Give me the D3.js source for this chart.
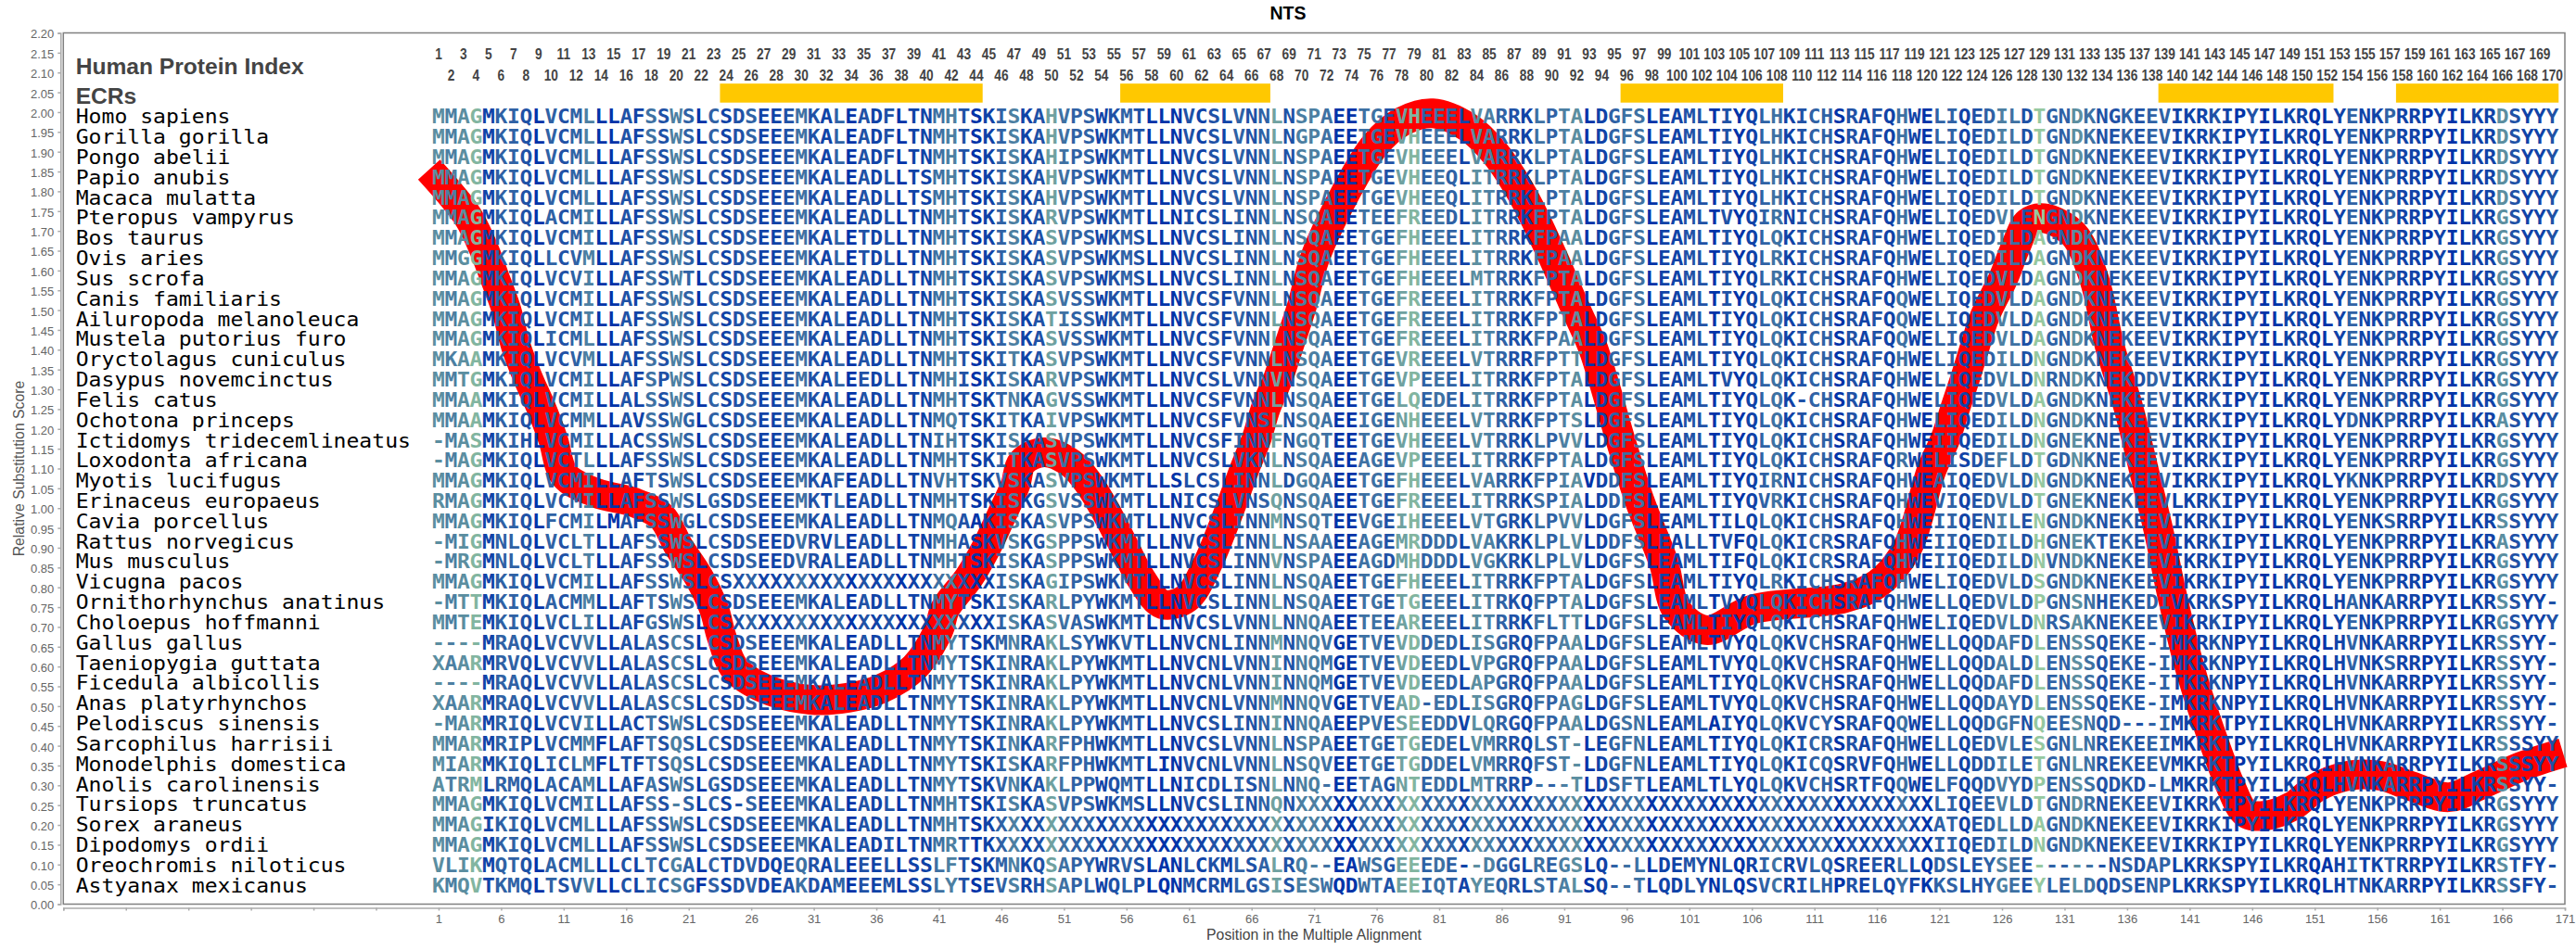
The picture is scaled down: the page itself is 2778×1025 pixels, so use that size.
<!DOCTYPE html>
<html><head><meta charset="utf-8"><title>NTS</title>
<script src="https://cdn.jsdelivr.net/npm/d3@7"></script>
<style>html,body{margin:0;padding:0;background:#fff}svg{display:block}</style>
</head><body><div id="chart"></div>
<script>
const species = ["Homo sapiens","Gorilla gorilla","Pongo abelii","Papio anubis","Macaca mulatta","Pteropus vampyrus","Bos taurus","Ovis aries","Sus scrofa","Canis familiaris","Ailuropoda melanoleuca","Mustela putorius furo","Oryctolagus cuniculus","Dasypus novemcinctus","Felis catus","Ochotona princeps","Ictidomys tridecemlineatus","Loxodonta africana","Myotis lucifugus","Erinaceus europaeus","Cavia porcellus","Rattus norvegicus","Mus musculus","Vicugna pacos","Ornithorhynchus anatinus","Choloepus hoffmanni","Gallus gallus","Taeniopygia guttata","Ficedula albicollis","Anas platyrhynchos","Pelodiscus sinensis","Sarcophilus harrisii","Monodelphis domestica","Anolis carolinensis","Tursiops truncatus","Sorex araneus","Dipodomys ordii","Oreochromis niloticus","Astyanax mexicanus"];

const seqStart = ["MMAGMKIQLVCMLLLAF","MMAGMKIQLVCMLLLAF","MMAGMKIQLVCMLLLAF","MMAGMKIQLVCMLLLAF","MMAGMKIQLVCMLLLAF","MMAGMKIQLACMILLAF","MMAGMKIQLVCMILLAF","MMGGMKIQLLCVMLLAF","MMAGMKIQLVCVILLAF","MMAGMKIQLVCMILLAF","MMAGMKIQLVCMILLAF","MMAGMKIQLICMLLLAF","MKAAMKIQLVCVMLLAF","MMTGMKIQLVCMILLAF","MMAAMKIQLVCMILLAL","MMAAMKIQLVCMMLLAV","-MASMKIHLVCMILLAC","-MAGMKIQLVCTLLLAF","MMAGMKIQLVCMILLAF","RMAGMKIQLVCMILLAF","MMAGMKIQLFCMILMAF","-MIGMNLQLVCLTLLAF","-MRGMNLQLVCLTLLAF","MMAGMKIQLVCMILLAF","-MTTMKIQLACMMLLAF","MMTEMKIQLVCLILLAF","----MRAQLVCVVLLAL","XAARMRVQLVCVVLLAL","----MRAQLVCVVLLAL","XAARMRAQLVCVVLLAL","-MARMRIQLVCVILLAC","MMARMRIPLVCMMFLAF","MIARMKIQLICLMFLTF","ATRMLRMQLACAMLLAF","MMAGMKIQLVCMILLAF","MMAGIKIQLVCMLLLAF","MMAGMKIQLVCMLLLAF","VLIKMQTQLACMLLLCL","KMQVTKMQLTSVVLLCL"];

const seqMiddleA = ["SSWSLCSDSEEEMKALEADFLTNMHTSKISKAHVPSWKMTLLNVCSLVNNLN","SSWSLCSDSEEEMKALEADFLTNMHTSKISKAHVPSWKMTLLNVCSLVNNLN","SSWSLCSDSEEEMKALEADFLTNMHTSKISKAHIPSWKMTLLNVCSLVNNLN","SSWSLCSDSEEEMKALEADLLTSMHTSKISKAHVPSWKMTLLNVCSLVNNLN","SSWSLCSDSEEEMKALEADLLTSMHTSKISKAHVPSWKMTLLNVCSLVNNLN","SSWSLCSDSEEEMKALEADLLTNMHTSKISKARVPSWKMTLLNICSLINNLN","SSWSLCSDSEEEMKALETDLLTNMHTSKISKASVPSWKMSLLNVCSLINNLN","SSWSLCSDSEEEMKALETDLLTNMHTSKISKASVPSWKMSLLNVCSLINNLN","SSWTLCSDSEEEMKALEADLLTNMHTSKISKASVPSWKMSLLNVCSLINNLN","SSWSLCSDSEEEMKALEADLLTNMHTSKISKASVSSWKMTLLNVCSFVNNLN","SSWSLCSDSEEEMKALEADLLTNMHTSKISKATISSWKMTLLNVCSFVNNLN","SSWSLCSDSEEEMKALEADLLTNMHTSKISKASVSSWKMTLLNVCSFVNNLN","SSWSLCSDSEEEMKALEADLLTNMHTSKITKASVPSWKMTLLNVCSFVNNLN","SPWSLCSDSEEEMKALEEDLLTNMHISKISKARVPSWKMTLLNVCSLVNNVN","SSWSLCSDSEEEMKALEADLLTNMHTSKTNKAGVSSWKMTLLNVCSFVNNLN","SSWGLCSDSEEEMKALEADLLTNMQTSKITKAIVPSWKMTLLNVCSFVNSLN","SSWSLCSDSEEEMKALEADLLTNIHTSKISKASVPSWKMTLLNVCSFINNFN","SSWSLCSDSEEEMKALEADLLTNMHTSKITKASVPSWKMTLLNVCSLVKNLN","TSWSLCSDSEEEMKAFEADLLTNVHTSKVSKASVPSWKMTLLSLCSLINNLD","SSWSLGSDSEEEMKTLEADLLTNMHTSKISKGSVSSWKMTLLNICSLVNSQN","SSWGLCSDSEEEMKALEADLLTNMQAAKISKASVPSWKMTLLNVCSLINNMN","SSWSLCSDSEEDVRVLEADLLTNMHASKVSKGSPPSWKMTLLNVCSLINNLN","SSWSLCSDSEEDVRALEADLLTNMHTSKISKASPPSWKMTLLNVCSLINNVN","SSWSLCSXXXXXXXXXXXXXXXXXXXXXISKAGIPSWKMTLLNVCSLINNLN","TSWSLCSDSEEEMKALEADLLTNMYTSKISKARLPYWKMTLLNVCSLINNLN","GSWSLCSXXXXXXXXXXXXXXXXXXXXXISKASVASWKMTLLNVCSLVNNLN","ASCSLCSDSEEEMKALEADLLTNMYTSKMNRAKLSYWKVTLLNVCNLINNMN","ASCSLCSDSEEEMKALEADLLTNMYTSKINRAKLPYWKMTLLNVCNLVNNIN","ASCSLCSDSEEEMKALEADLLTNMYTSKINRAKLPYWKMTLLNVCNLVNNIN","ASCSLCSDSEEEMKALEADLLTNMYTSKINRAKLPYWKMTLLNVCNLVNNMN","TSWSLCSDSEEEMKALEADLLTNMYTSKINRAKLPYWKMTLLNVCSLINNIN","TSQSLCSDSEEEMKALEADLLTNMYTSKINKARFPHWKMTLLNVCSLVNNLN","TSQSLCSDSEEEMKALEADLLTNMYTSKISKARFPHWKMTLINVCNLVNNLN","ASWSLGSDSEEEMKALEADLLTNMYTSKVNKAKLPPWQMTLLNICDLISNLN","SS-SLCS-SEEEMKALEADLLTNMHTSKISKASVPSWKMSLLNVCSLINNQN","SSWSLCSDSEEEMKALEADLLTNMHTSKXXXXXXXXXXXXXXXXXXXXXXXX","SSWSLCSDSEEEMKALEADILTNMRTTKXXXXXXXXXXXXXXXXXXXXXXXX","TCGALCTDVDQEQRALEEELLSSLFTSKMNKQSAPYWRVSLANLCKMLSALR","ICSGFSSDVDEAKDAMEEEMLSSLYTSEVSRHSAPLWQLPLQNMCRMLGSIS"];

const seqMiddleB = ["SPAEETGEVHEEELVARRKLPTALDGFSLEAMLTIYQLHKICHSRAFQHWEL","GPAEETGEVHEEELVARRKLPTALDGFSLEAMLTIYQLHKICHSRAFQHWEL","SPAEETGEVHEEELVARRKLPTALDGFSLEAMLTIYQLHKICHSRAFQHWEL","SPAEETGEVHEEQLITRRKLPTALDGFSLEAMLTIYQLHKICHSRAFQHWEL","SPAEETGEVHEEQLITRRKLPTALDGFSLEAMLTIYQLHKICHSRAFQHWEL","SQAEETEEFREEDLITRRKFPTALDGFSLEAMLTVYQIRNICHSRAFQHWEL","SQAEETGEFHEEELITRRKFPAALDGFSLEAMLTIYQLQKICHSRAFQHWEL","SQAEETGEFHEEELITRRKFPAALDGFSLEAMLTIYQLRKICHSRAFQHWEL","SQAEETGEFHEEELMTRRKFPTALDGFSLEAMLTIYQLRKICHSRAFQHWEL","SQAEETGEFREEELITRRKFPTALDGFSLEAMLTIYQLQKICHSRAFQQWEL","SQAEETGEFREEELITRRKFPTALDGFSLEAMLTIYQLQKICHSRAFQQWEL","SQAEETGEFREEELITRRKFPAALDGFSLEAMLTIYQLQKICHSRAFQQWEL","SQAEETGEVREEELVTRRRFPTTLDGFSLEAMLTIYQLQKICHSRAFQHWEL","SQAEETGEVPEEELITRRKFPTALDGFSLEAMLTVYQLQKICHSRAFQHWEL","SQAEETGELQEDELITRRKFPTALDGFSLEAMLTIYQLQK-CHSRAFQHWEL","SQAEEIGENHEEELVTRRKFPTSLDGFSLEAMLTIYQLQKICHSRAFQHWEL","GQTEETGEVHEEELVTRRKLPVVLDGFSLEAMLTIYQLQKICHSRAFQHWEI","SQAEEAGEVPEEELITRRKFPTALDGFSLEAMLTIYQLQKICHSRAFQRWEL","GQAEETGEFHEEELVARRKFPIAVDDFSLEAMLTIYQIRNICHSRAFQHWEA","SQAEETGEFREEELITRRKSPIALDDFSLEAMLTIYQVRKICHSRAFQHWEV","SQTEEVGEIHEEELVTGRKLPVVLDGFSLEAMLTILQLQKICHSRAFQHWEI","SAAEEAGEMRDDDLVAKRKLPLVLDDFSLEALLTVFQLQKICRSRAFQHWEI","SPAEEAGDMHDDDLVGKRKLPLVLDGFSLEAMLTIFQLQKICRSRAFQHWEI","SQAEETGEFHEEELITRRKFPTALDGFSLEAMLTIYQLRKICHSRAFQHWEL","SQAEETGETGEEELITRKQFPTALDGFSLEAMLTVYQLQKICHSRAFQHWEL","NQAEETEEAREEELITRRKFLTTLDGFSLEAMLTIYQLQKICHSRAFQHWEL","NQVGETVEVDDEDLISGRQFPAALDGFSLEAMLTVYQLQKVCHSRAFQHWEL","NQMGETVEVDEEDLVPGRQFPAALDGFSLEAMLTVYQLQKVCHSRAFQHWEL","NQMGETVEVDEEDLAPGRQFPAALDGFSLEAMLTIYQLQKVCHSRAFQHWEL","NQVGETVEAD-EDLISGRQFPAGLDGFSLEAMLTVYQLQKVCHSRAFQHWEL","NQAEEPVESEEDDVLQRGQFPAALDGSNLEAMLAIYQLQKVCYSRAFQQWEL","SPAEETGETGEDELVMRRQLST-LEGFNLEAMLTIYQLQKICRSRAFQHWEL","SQVEETGETGDDELVMRRQFST-LDGFNLEAMLTIYQLQKICQSRVFQHWEL","NQ-EETAGNTEDDLMTRRP---TLDSFTLEAMLTLYQLQKVCHSRTFQQWEL","XXXXXXXXXXXXXXXXXXXXXXXXXXXXXXXXXXXXXXXXXXXXXXXXXXXL","XXXXXXXXXXXXXXXXXXXXXXXXXXXXXXXXXXXXXXXXXXXXXXXXXXXA","XXXXXXXXXXXXXXXXXXXXXXXXXXXXXXXXXXXXXXXXXXXXXXXXXXXI","Q--EAWSGEEEDE--DGGLREGSLQ--LLDEMYNLQRICRVLQSREERLLQD","ESWQDWTAEEIQTAYEQRLSTALSQ--TLQDLYNLQSVCRILHPRELQYFKK"];

const seqEnd = ["IQEDILDTGNDKNGKEEVIKRKIPYILKRQLYENKPRRPYILKRDSYYY","IQEDILDTGNDKNEKEEVIKRKIPYILKRQLYENKPRRPYILKRDSYYY","IQEDILDTGNDKNEKEEVIKRKIPYILKRQLYENKPRRPYILKRDSYYY","IQEDILDTGNDKNEKEEVIKRKIPYILKRQLYENKPRRPYILKRDSYYY","IQEDILDTGNDKNEKEEVIKRKIPYILKRQLYENKPRRPYILKRDSYYY","IQEDVLENGNDKNEKEEVIKRKIPYILKRQLYENKPRRPYILKRGSYYY","IQEDILDAGNDKNEKEEVIKRKIPYILKRQLYENKPRRPYILKRGSYYY","IQEDILDAGNDKNEKEEVIKRKIPYILKRQLYENKPRRPYILKRGSYYY","IQEDVLDAGNDKNEKEEVIKRKIPYILKRQLYENKPRRPYILKRGSYYY","IQEDVLDAGNDKNEKEEVIKRKIPYILKRQLYENKPRRPYILKRGSYYY","IQEDVLDAGNDKNEKEEVIKRKIPYILKRQLYENKPRRPYILKRGSYYY","IQEDVLDAGNDKNEKEEVIKRKIPYILKRQLYENKPRRPYILKRGSYYY","IQEDILDNGNDKNEKEEVIKRKIPYILKRQLYENKPRRPYILKRGSYYY","IQEDVLDNRNDKNEKDDVIKRKIPYILKRQLYENKPRRPYILKRGSYYY","IQEDVLDAGNDKNEKEEVIKRKIPYILKRQLYENKPRRPYILKRGSYYY","IQEDILDNGNDKNEKEEVIKRKIPYILKRQLYDNKPRRPYILKRASYYY","IQEDILDNGNEKNEKEEVIKRKIPYILKRQLYENKPRRPYILKRGSYYY","ISDEFLDTGDNKNEKEEVIKRKIPYILKRQLYENKPRRPYILKRGSYYY","IQEDVLDNGNDKNEKEEVIKRKIPYILKRQLYKNKPRRPYILKRDSYYY","IQEDVLDTGNEKNEKEEVLKRKIPYILKRQLYENKPRRPYILKRGSYYY","IQENILENGNDKNEKEEVIKRKIPYILKRQLYENKSRRPYILKRSSYYY","IQEDILDHGNEKTEKEEVIKRKIPYILKRQLYENKPRRPYILKRASYYY","IQEDILDNVNDKNEKEEVIKRKIPYILKRQLYENKPRRPYILKRGSYYY","IQEDVLDSGNDKNEKEEVIKRKIPYILKRQLYENKPRRPYILKRGSYYY","LQEDVLDPGNSNHEKEDIVKRKSPYILKRQLHANKARRPYILKRSSYY-","IQEDVLDNRSAKNEKEEVIKRKIPYILKRQLYENKPRRPYILKRGSYYY","LQQDAFDLENSSQEKE-IMKRKNPYILKRQLHVNKARRPYILKRSSYY-","LQQDALDLENSSQEKE-IMKRKNPYILKRQLHVNKSRRPYILKRSSYY-","LQQDAFDLENSSQEKE-ITKRKNPYILKRQLHVNKARRPYILKRSSYY-","LQQDAYDLENSSQEKE-IMKRKNPYILKRQLHVNKARRPYILKRSSYY-","LQQDGFNQEESNQD---IMKRKTPYILKRQLHVNKARRPYILKRSSYY-","LQEDVLESGNLNREKEEIMKRKTPYILKRQLHVNKARRPYILKRSSSYY","LQDDILETGNLNREKEEVMKRKTPYILKRQIHVNKARRPYILKRSSSYY","FQQDVYDPENSSQDKD-LMKRKTPYILKRQLHVNKARRPYILKRSSYY-","IQEEVLDTGNDRNEKEEVIKRKIPYILKRQLYENKPRRPYILKRGSYYY","TQEDLLDAGNDKNEKEEVIKRKIPYILKRQLYENKPRRPYILKRGSYYY","IQEDILDNGNDKNEKEEVIKRKIPYILKRQLYENKPRRPYILKRGSYYY","SLEYSEE------NSDAPLKRKSPYILKRQAHITKTRRPYILKRSTFY-","SLHYGEEYLELDQDSENPLKRKSPYILKRQLHTNKARRPYILKRSSFY-"];

const columnShade = [6,5,6,8,1,3,3,2,0,3, 2,3,5,0,0,2,1,4,2,5, 3,0,3,1,2,3,1,1,2,4, 2,1,3,0,2,1,2,0,1,1, 4,5,2,0,1,3,5,1,2,7, 4,3,3,1,2,3,2,0,0,0, 2,1,2,1,3,2,3,7,2,5, 5,4,0,0,4,4,2,7,8,3, 4,3,1,6,5,3,2,1,4,3, 5,6,0,1,3,4,4,0,1,1, 2,2,0,2,0,1,3,4,1,2, 3,3,0,2,1,2,1,4,1,0, 3,3,1,2,3,5,4,2,9,3, 3,6,4,2,2,3,2,3,3,1, 1,1,2,1,0,2,0,0,1,1, 0,0,1,3,1,1,3,1,1,0, 1,0,0,1,1,6,2,1,1,2];

const curvePositions = [0.24,3.31,4.57,5.50,6.39,7.17,8.13,9.21,10.13,11.10,13.62,16.58,18.81,20.21,21.82,23.03,23.63,24.70,27.10,30.74,33.71,36.38,39.05,40.98,41.49,43.41,44.82,45.97,47.12,47.64,49.42,51.57,53.06,54.57,55.83,57.20,58.88,60.84,62.52,63.58,64.51,65.40,66.40,67.14,68.15,68.99,70.03,71.07,73.51,75.85,78.04,80.48,83.30,85.45,87.74,89.75,91.90,93.23,94.05,95.46,97.02,98.95,99.98,102.35,106.13,113.40,116.06,118.36,120.37,121.48,122.26,123.07,123.85,124.66,126.11,127.07,128.07,129.33,131.71,133.34,134.60,136.11,137.34,138.52,139.56,140.86,141.98,143.27,144.23,145.49,146.95,149.20,151.12,153.68,156.24,158.47,161.71,164.25,167.48,170.85];
const curveScores = [1.855,1.738,1.658,1.581,1.504,1.410,1.330,1.253,1.176,1.082,1.038,1.015,0.979,0.902,0.825,0.745,0.675,0.594,0.544,0.516,0.521,0.544,0.598,0.692,0.745,0.825,0.902,0.979,1.059,1.115,1.141,1.113,1.059,0.979,0.902,0.820,0.757,0.773,0.862,0.942,1.019,1.096,1.176,1.253,1.330,1.410,1.511,1.632,1.796,1.916,1.976,1.997,1.962,1.897,1.787,1.658,1.504,1.410,1.330,1.176,1.019,0.862,0.743,0.692,0.745,0.773,0.809,0.895,1.096,1.176,1.253,1.330,1.410,1.487,1.581,1.658,1.721,1.732,1.692,1.581,1.410,1.253,1.096,0.942,0.785,0.614,0.497,0.380,0.301,0.230,0.223,0.247,0.294,0.324,0.324,0.301,0.270,0.301,0.347,0.382];

const ecrStarts = [24,56,96,139,158];
const ecrEnds = [44,67,108,152,170];

const yTickValues = [0,0.05,0.1,0.15,0.2,0.25,0.3,0.35,0.4,0.45,0.5,0.55,0.6,0.65,0.7,0.75,0.8,0.85,0.9,0.95,1,1.05,1.1,1.15,1.2,1.25,1.3,1.35,1.4,1.45,1.5,1.55,1.6,1.65,1.7,1.75,1.8,1.85,1.9,1.95,2,2.05,2.1,2.15,2.2];
const xTickValues = [-29,-24,-19,-14,-9,-4,1,6,11,16,21,26,31,36,41,46,51,56,61,66,71,76,81,86,91,96,101,106,111,116,121,126,131,136,141,146,151,156,161,166,171];
const columnNumbers = d3.range(1,171);

const W=2778,H=1025;
const L=68.3,R=2766,T=35.5,B=975.5;
const x=d3.scaleLinear().domain([-29,171]).range([L,R]);
const y=d3.scaleLinear().domain([0,2.2]).range([B,T]);
const rowY=d3.scalePoint().domain(species).range([y(1.971),y(0.030)]);
const shade=d3.scaleLinear().domain([0,3,6,9]).range(["#0033a8","#2f62a5","#5b8ea0","#96c8a0"]);
const alignment=species.map((s,i)=>seqStart[i]+seqMiddleA[i]+seqMiddleB[i]+seqEnd[i]);

const svg=d3.select("#chart").append("svg").attr("width",W).attr("height",H).attr("viewBox",`0 0 ${W} ${H}`);
svg.append("rect").attr("width",W).attr("height",H).attr("fill","#fff");

const SANS="'Liberation Sans',Arial,sans-serif",MONO="'DejaVu Sans Mono',monospace";

// title
svg.append("text").attr("x",1389).attr("y",21).attr("text-anchor","middle").attr("font-family",SANS).attr("font-weight","bold").attr("font-size",19.5).attr("fill","#000").text("NTS");

// plot frame
svg.append("rect").attr("x",L).attr("y",T).attr("width",R-L).attr("height",B-T).attr("fill","#fff").attr("stroke","#808080").attr("stroke-width",1.5);

// axes
const gx=svg.append("g").attr("transform",`translate(0,${B+4})`).call(d3.axisBottom(x).tickValues(xTickValues).tickSize(3).tickPadding(4).tickFormat(d=>d>=1?String(d):""));
const gy=svg.append("g").attr("transform",`translate(${L-3},0)`).call(d3.axisLeft(y).tickValues(yTickValues).tickSize(3).tickPadding(4).tickFormat(d3.format(".2f")));
[gx,gy].forEach(g=>{
  g.selectAll("path,line").attr("stroke","#aaa").attr("stroke-width",1.5);
  g.selectAll("text").attr("font-family",SANS).attr("font-size",13).attr("fill","#666");
});
gy.selectAll("text").attr("dy","0.42em");
svg.append("text").attr("transform",`translate(26,505.5) rotate(-90)`).attr("text-anchor","middle").attr("font-family",SANS).attr("font-size",15.8).attr("fill","#555").text("Relative Substitution Score");
svg.append("text").attr("x",1417).attr("y",1014).attr("text-anchor","middle").attr("font-family",SANS).attr("font-size",15.8).attr("fill","#444").text("Position in the Multiple Alignment");

// red curve under the letters
const line=d3.line().x(d=>x(d[0])).y(d=>y(d[1])).curve(d3.curveCatmullRom.alpha(0.5));
svg.append("path").datum(curvePositions.map((p,i)=>[p,curveScores[i]])).attr("d",line).attr("fill","none").attr("stroke","#ff0000").attr("stroke-width",32).attr("stroke-linejoin","round").attr("stroke-linecap","butt");

// header labels
svg.append("text").attr("x",81.7).attr("y",80).attr("font-family",SANS).attr("font-weight","bold").attr("font-size",24.6).attr("fill","#444").text("Human Protein Index");
svg.append("text").attr("x",81.7).attr("y",112.3).attr("font-family",SANS).attr("font-weight","bold").attr("font-size",24.6).attr("fill","#444").text("ECRs");

// column numbers
svg.append("g").selectAll("text").data(columnNumbers).join("text")
  .attr("transform",d=>`translate(${x(d)},${y(d%2?2.133:2.080)}) scale(0.83,1)`)
  .attr("text-anchor","middle").attr("font-family",SANS).attr("font-weight","bold").attr("font-size",16.5).attr("fill","#444").text(d=>d);

// ECR bars
svg.append("g").selectAll("rect").data(ecrStarts.map((s,i)=>[s,ecrEnds[i]])).join("rect")
  .attr("x",d=>x(d[0]-0.5)).attr("width",d=>x(d[1]+0.5)-x(d[0]-0.5))
  .attr("y",y(2.072)).attr("height",y(2.024)-y(2.072)).attr("fill","#ffc800");

// species names
svg.append("g").selectAll("text").data(species).join("text")
  .attr("transform",d=>`translate(81.7,${rowY(d)}) scale(1.074,1)`)
  .attr("font-family",MONO).attr("font-size",21.5).attr("fill","#000").text(d=>d);

// residues
const rows=svg.append("g").attr("font-family",MONO).attr("font-weight","bold").attr("font-size",20.5).attr("text-anchor","middle")
  .selectAll("g").data(species).join("g").attr("data-species",d=>d);
rows.each(function(sp,i){
  d3.select(this).selectAll("text").data(alignment[i].split("").map((c,j)=>({c,col:j+1}))).join("text")
    .attr("transform",d=>`translate(${x(d.col)},${rowY(sp)}) scale(1.12,1)`)
    .attr("fill",d=>shade(columnShade[d.col-1])).text(d=>d.c);
});
</script></body></html>
